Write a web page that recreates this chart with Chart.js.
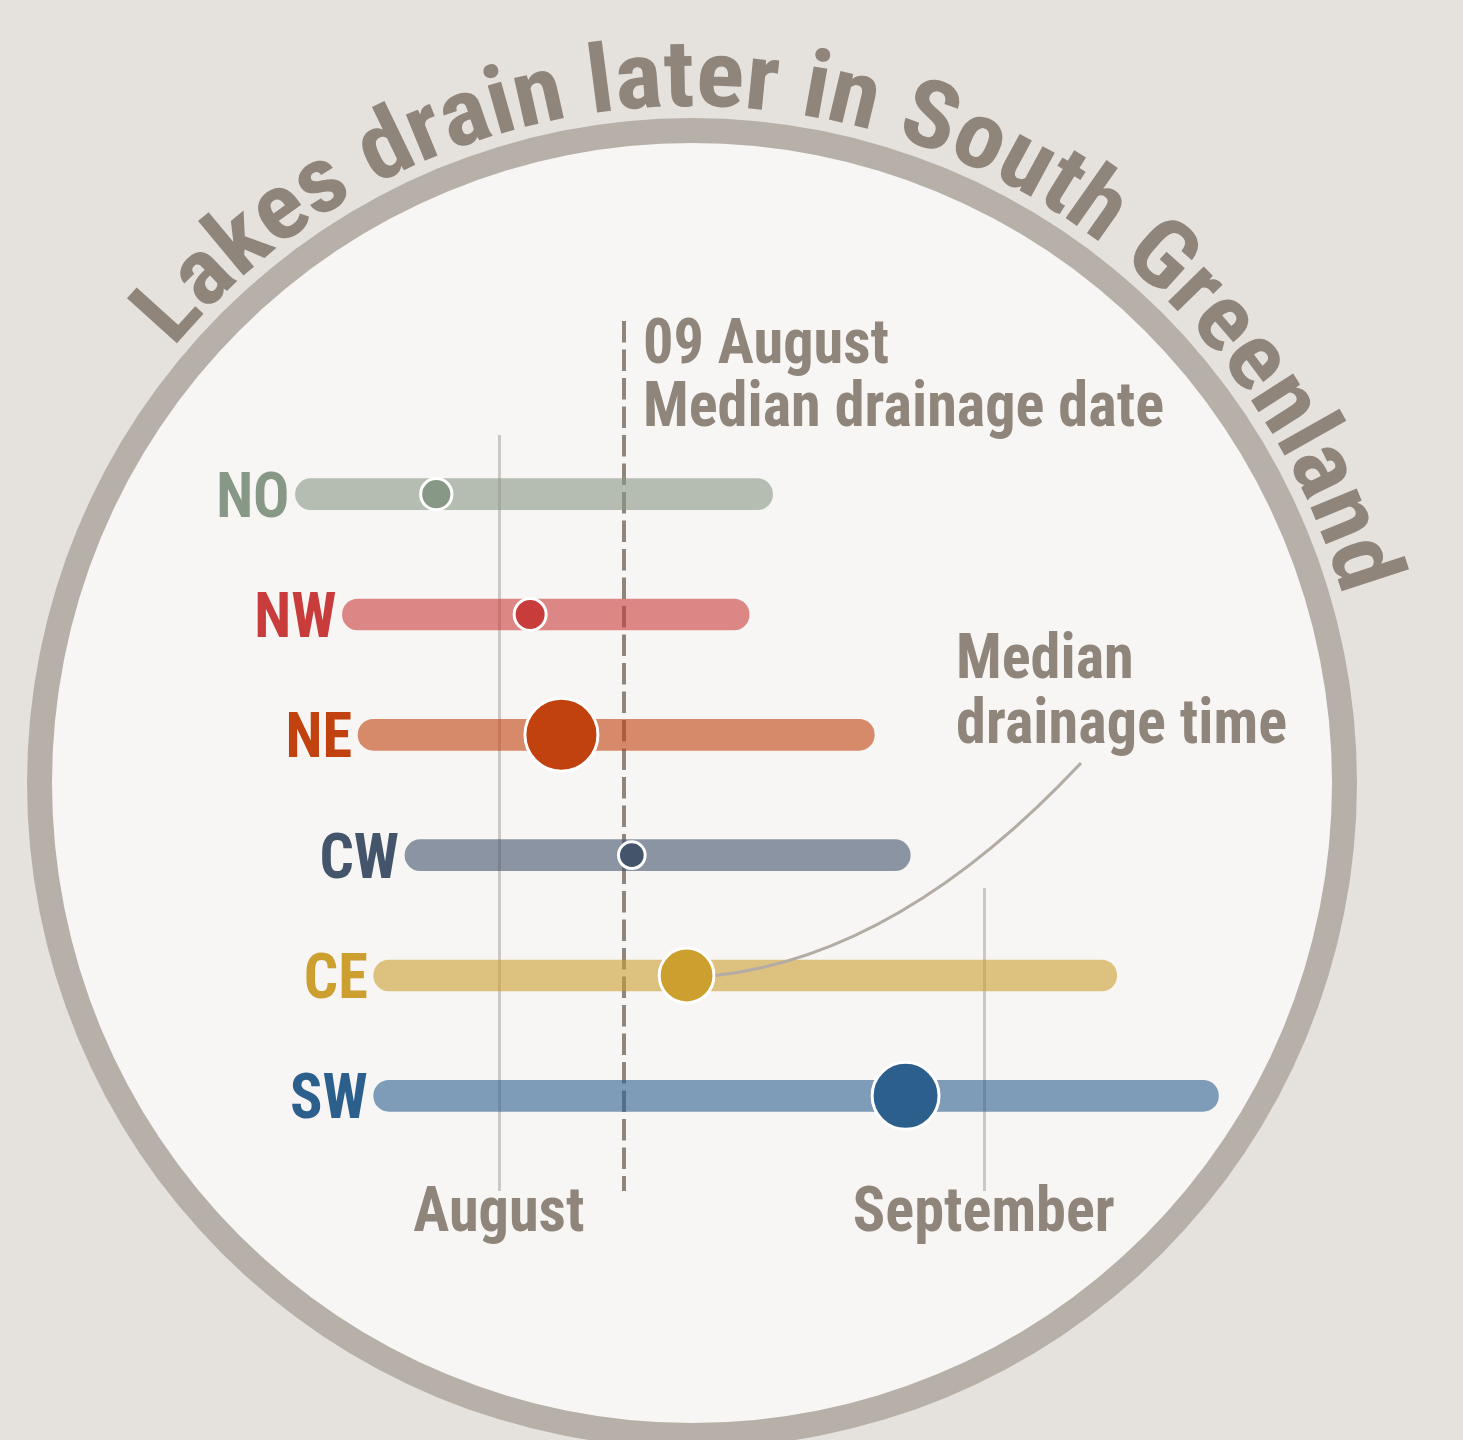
<!DOCTYPE html>
<html><head><meta charset="utf-8">
<script src="https://cdn.jsdelivr.net/npm/chart.js@4.4.1/dist/chart.umd.min.js"></script>
<style>html,body{margin:0;padding:0;background:#e5e1dd;overflow:hidden}canvas{display:block}</style>
</head><body>
<canvas id="c" width="1463" height="1440"></canvas>
<script>
// ---- data (days relative to 1 August) ----
const regions = ['NO', 'NW', 'NE', 'CW', 'CE', 'SW'];
const drainStart = [-13, -10, -9, -6, -8, -8];
const drainEnd = [17.5, 16, 24, 26.3, 39.5, 46];
const drainMedian = [-4, 2, 4, 8.5, 12, 26];
const medianWeight = [0.45, 0.46, 1.0, 0.39, 0.76, 0.92];
const monthTickValues = [0, 31];
const monthTickLabels = ['August', 'September'];
const overallMedianValue = 8;
const overallMedianLabel = ['09 August', 'Median drainage date'];
const calloutLabel = ['Median', 'drainage time'];
const titleText = 'Lakes drain later in South Greenland';

// ---- styles ----
const regionColors = ['#889886', '#c93c3c', '#c1420e', '#43546b', '#cc9f2f', '#2d5f8d'];
const TEXT = '#8f857b';
const BG = '#e5e1dd', INNER = '#f7f6f4', RING = '#b7b0a9';
function hexA(h, a) { const n = parseInt(h.slice(1), 16); return `rgba(${n >> 16},${(n >> 8) & 255},${n & 255},${a})`; }

// font selection
const mctx = document.createElement('canvas').getContext('2d');
function widthWith(f) { mctx.font = 'bold 50px ' + f; return mctx.measureText('Median drainage date 09').width; }
function pickFont() {
  const m = widthWith('monospace'), s = widthWith('serif');
  for (const fam of ['Liberation Sans Narrow', 'Roboto Condensed', 'DejaVu Sans Condensed', 'Liberation Sans']) {
    const a = widthWith(`"${fam}", monospace`), b = widthWith(`"${fam}", serif`);
    if (a === b && a !== m) return fam;
  }
  return 'sans-serif';
}
const FAM = pickFont();
mctx.font = `bold 100px "${FAM}"`;
const capRatio = mctx.measureText('H').actualBoundingBoxAscent / 100;
const FS = 45 / capRatio;
mctx.font = `bold ${FS}px "${FAM}"`;
const SX = 521 / mctx.measureText('Median drainage date').width;

function txt(ctx, s, x, y, color, align) {
  ctx.save();
  ctx.font = `bold ${FS}px "${FAM}"`;
  ctx.fillStyle = color; ctx.textBaseline = 'alphabetic'; ctx.textAlign = 'left';
  const w = ctx.measureText(s).width * SX;
  const x0 = align === 'right' ? x - w : align === 'center' ? x - w / 2 : x;
  ctx.translate(x0, y); ctx.scale(SX, 1); ctx.fillText(s, 0, 0);
  ctx.restore();
}

const CX = 692, CY = 783;
const decor = {
  id: 'decor',
  beforeDraw(chart) {
    const ctx = chart.ctx;
    ctx.save();
    ctx.fillStyle = BG; ctx.fillRect(0, 0, chart.width, chart.height);
    ctx.beginPath(); ctx.arc(CX, CY, 665, 0, Math.PI * 2); ctx.fillStyle = RING; ctx.fill();
    ctx.beginPath(); ctx.arc(CX, CY, 640, 0, Math.PI * 2); ctx.fillStyle = INNER; ctx.fill();
    // curved title
    const R = 677, a0 = -140 * Math.PI / 180, a1 = -16 * Math.PI / 180;
    const tfs = 68 / capRatio;
    ctx.font = `bold ${tfs}px "${FAM}"`;
    const chars = [...titleText];
    const ws = chars.map(ch => ctx.measureText(ch).width);
    const tot = ws.reduce((p, q) => p + q, 0);
    const sxT = (a1 - a0) * R / tot;
    let pos = 0;
    ctx.fillStyle = TEXT; ctx.textAlign = 'center'; ctx.textBaseline = 'alphabetic';
    chars.forEach((ch, i) => {
      const w = ws[i] * sxT;
      const a = a0 + (pos + w / 2) / R;
      ctx.save();
      ctx.translate(CX + R * Math.cos(a), CY + R * Math.sin(a));
      ctx.rotate(a + Math.PI / 2);
      ctx.scale(sxT, 1);
      ctx.fillText(ch, 0, 0);
      ctx.restore();
      pos += w;
    });
    ctx.restore();
  },
  beforeDatasetsDraw(chart) {
    const ctx = chart.ctx, x = chart.scales.x;
    ctx.save();
    ctx.strokeStyle = 'rgba(143,133,123,0.4)'; ctx.lineWidth = 3;
    const tops = [435, 888];
    monthTickValues.forEach((v, i) => {
      const px = Math.round(x.getPixelForValue(v)) + 0.5;
      ctx.beginPath(); ctx.moveTo(px, tops[i]); ctx.lineTo(px, 1191); ctx.stroke();
    });
    const mx = Math.round(x.getPixelForValue(overallMedianValue));
    ctx.strokeStyle = TEXT; ctx.lineWidth = 4; ctx.setLineDash([21.5, 7]);
    ctx.beginPath(); ctx.moveTo(mx, 321); ctx.lineTo(mx, 1191); ctx.stroke();
    ctx.restore();
  },
  afterDatasetsDraw(chart) {
    const ctx = chart.ctx, x = chart.scales.x;
    const mx = x.getPixelForValue(overallMedianValue);
    txt(ctx, overallMedianLabel[0], mx + 19, 363, TEXT, 'left');
    txt(ctx, overallMedianLabel[1], mx + 19, 426, TEXT, 'left');
    txt(ctx, calloutLabel[0], 956, 678, TEXT, 'left');
    txt(ctx, calloutLabel[1], 956, 743, TEXT, 'left');
    monthTickValues.forEach((v, i) => txt(ctx, monthTickLabels[i], x.getPixelForValue(v), 1231, TEXT, 'center'));
    const bars = chart.getDatasetMeta(1).data;
    bars.forEach((b, i) => {
      const left = Math.min(b.x, b.base);
      txt(ctx, regions[i], left - 6, b.y + 22.5, regionColors[i], 'right');
    });
    // callout curve to CE dot
    const ce = chart.getDatasetMeta(0).data[4];
    const r = 38 * medianWeight[4];
    ctx.save();
    ctx.strokeStyle = '#b3aca5'; ctx.lineWidth = 3.2;
    ctx.beginPath(); ctx.moveTo(1081, 763); ctx.quadraticCurveTo(901, 955, ce.x + r, ce.y); ctx.stroke();
    ctx.restore();
  }
};

new Chart(document.getElementById('c'), {
  type: 'bar',
  data: {
    labels: regions,
    datasets: [
      {
        type: 'scatter',
        data: drainMedian.map((m, i) => ({ x: m, y: regions[i] })),
        pointRadius: medianWeight.map(w => 38 * w - 1.5),
        pointHoverRadius: medianWeight.map(w => 38 * w - 1.5),
        pointBackgroundColor: regionColors,
        pointBorderColor: '#ffffff',
        pointBorderWidth: 3,
        order: 0
      },
      {
        type: 'bar',
        indexAxis: 'y',
        data: drainStart.map((s, i) => [s, drainEnd[i]]),
        backgroundColor: regionColors.map(c => hexA(c, 0.6)),
        barThickness: 31,
        borderRadius: 16,
        borderSkipped: false,
        order: 1
      }
    ]
  },
  options: {
    indexAxis: 'y',
    responsive: false,
    animation: false,
    events: [],
    layout: { padding: { left: 186, right: 182, top: 434, bottom: 284 } },
    scales: {
      x: { type: 'linear', min: -20, max: 50, display: false },
      y: { type: 'category', display: false, offset: true }
    },
    plugins: { legend: { display: false }, tooltip: { enabled: false } }
  },
  plugins: [decor]
});
</script>
</body></html>
